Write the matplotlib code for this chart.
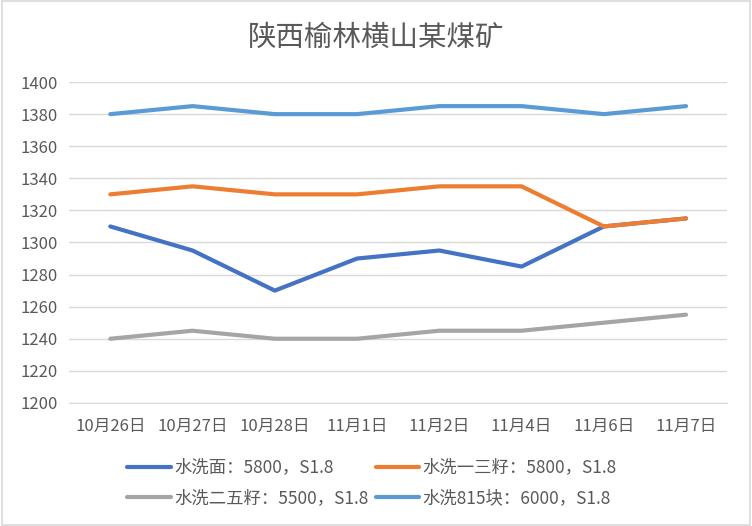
import matplotlib.pyplot as plt
from matplotlib.patches import Rectangle

plt.rcParams['font.family'] = ['Noto Sans CJK SC', 'DejaVu Sans']

dates = ['10月26日', '10月27日', '10月28日', '11月1日', '11月2日', '11月4日', '11月6日', '11月7日']
mian = [1310, 1295, 1270, 1290, 1295, 1285, 1310, 1315]
yisan = [1330, 1335, 1330, 1330, 1335, 1335, 1310, 1315]
erwu = [1240, 1245, 1240, 1240, 1245, 1245, 1250, 1255]
kuai = [1380, 1385, 1380, 1380, 1385, 1385, 1380, 1385]

names = ['水洗面：5800，S1.8', '水洗一三籽：5800，S1.8', '水洗二五籽：5500，S1.8', '水洗815块：6000，S1.8']
colors = ['#4472C4', '#ED7D31', '#A5A5A5', '#5B9BD5']

fig = plt.figure(figsize=(7.52, 5.26), dpi=100)
ax = fig.add_axes([0.092, 0.234, 0.875, 0.61])

x = list(range(len(dates)))
lines = []
for vals, name, c in zip([mian, yisan, erwu, kuai], names, colors):
    ln, = ax.plot(x, vals, color=c, lw=3, label=name, solid_capstyle='round')
    lines.append(ln)

ax.set_xlim(-0.5, len(dates) - 0.5)
ax.set_ylim(1200, 1400)
ax.set_yticks(range(1200, 1401, 20))
ax.set_xticks(x)
ax.set_xticklabels(dates)
ax.grid(axis='y', color='#D9D9D9', lw=1)
ax.set_axisbelow(True)
for s in ['top', 'right', 'left']:
    ax.spines[s].set_visible(False)
ax.spines['bottom'].set_color('#D9D9D9')
ax.tick_params(length=0, labelsize=12, colors='#595959', pad=8)
ax.tick_params(axis='x', pad=11)

fig.text(0.5, 0.928, '陕西榆林横山某煤矿', ha='center', va='center', fontsize=20.5, color='#595959')

# row-wise order like the original legend
order = [0, 2, 1, 3]
leg = ax.legend([lines[i] for i in order], [names[i] for i in order],
                loc='upper left', bbox_to_anchor=(0.078, -0.152), ncol=2, frameon=False,
                fontsize=12.5, handlelength=2.5, columnspacing=0.4, handletextpad=0.2,
                labelspacing=0.7, borderaxespad=0)
for t in leg.get_texts():
    t.set_color('#595959')

fig.patches.append(Rectangle((0.002, 0.002), 0.996, 0.996, transform=fig.transFigure,
                             fill=False, edgecolor='#D9D9D9', lw=1.2))

fig.savefig('out.png', dpi=100)
